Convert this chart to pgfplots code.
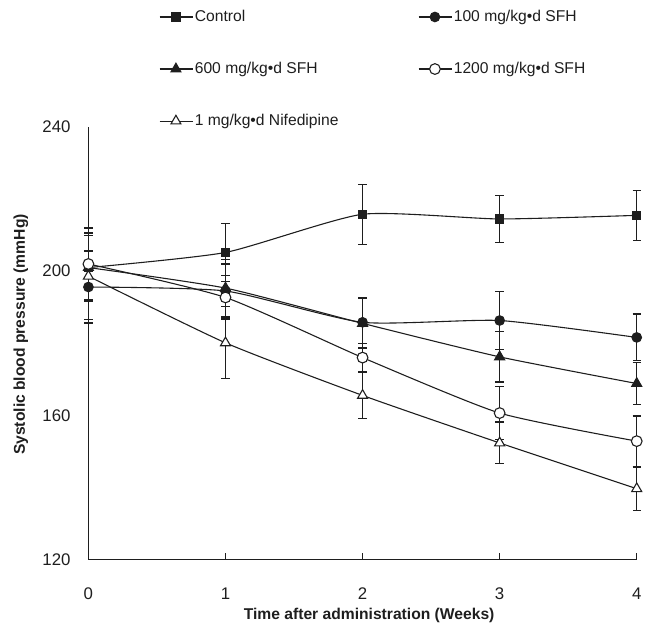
\documentclass[border=0pt]{standalone}
\usepackage{fontspec}
\setmainfont{Liberation Sans}
\usepackage{pgfplots}
\pgfplotsset{compat=1.18}
\definecolor{ink}{RGB}{30,30,30}

\pgfplotsset{
  sbp/.style={
    color=ink, line width=0.55bp, smooth, tension=0.35,
    error bars/y dir=both, error bars/y explicit,
    error bars/error bar style={line width=0.6bp, solid},
    error bars/error mark options={rotate=90, mark size=2.1bp, line width=0.6bp}
  }
}

\begin{document}
\begin{tikzpicture}
\begin{axis}[
    name=ax,
    scale only axis,
    width=276bp, height=217.5bp,
    xmin=0, xmax=4, ymin=120, ymax=240,
    axis x line=bottom, axis y line=left,
    axis line style={-, line width=0.55bp, ink},
    xtick={0,1,2,3,4},
    ytick={120,160,200,240},
    tick align=inside,
    major tick length=3bp,
    xtick style={line width=0.5bp, ink},
    ytick style={draw=none},
    clip=false,
    /pgf/number format/assume math mode=true,
    ticklabel style={font=\fontsize{8.5}{10}\selectfont, text=ink},
    xticklabel style={yshift=-11bp},
    yticklabel style={xshift=-5.5bp},
    xlabel={\textbf{Time after administration (Weeks)}},
    ylabel={\textbf{Systolic blood pressure (mmHg)}},
    label style={font=\fontsize{7.9}{9}\selectfont, text=ink},
    xlabel style={at={(axis description cs:0.512,-0.13)}, anchor=center},
    ylabel style={at={(axis description cs:-0.123,0.52)}, anchor=center},
    legend columns=2,
    legend cell align=left,
    legend style={
      at={(axis description cs:0.128,1.277)}, anchor=north west,
      draw=none, fill=none, inner sep=0pt,
      font=\fontsize{7.9}{9}\selectfont, text=ink,
      nodes={inner sep=1bp},
      row sep=17bp,
      /tikz/column 2/.style={column sep=39bp}
    },
    legend image code/.code={
      \draw[mark repeat=2, mark phase=2, line width=0.55bp]
        plot coordinates {(0bp,0bp) (8.25bp,0bp) (16.5bp,0bp)};
    },
]

\addplot[sbp, mark=square*, mark size=2.1bp, mark options={solid, fill=ink}]
  coordinates {(0,201) +- (0,9) (1,205.2) +- (0,8) (2,215.8) +- (0,8.3)
               (3,214.5) +- (0,6.5) (4,215.5) +- (0,7)};
\addlegendentry{Control}

\addplot[sbp, mark=*, mark size=2.4bp, mark options={solid, fill=ink}]
  coordinates {(0,195.6) +- (0,10) (1,194.5) +- (0,7.5) (2,185.8) +- (0,7)
               (3,186.3) +- (0,8) (4,181.6) +- (0,6.5)};
\addlegendentry{100 mg/kg•d SFH}

\addplot[sbp, mark=triangle*, mark size=2.9bp, mark options={solid, fill=ink}]
  coordinates {(0,201) +- (0,9.5) (1,195.3) +- (0,8) (2,185.5) +- (0,7)
               (3,176.2) +- (0,7) (4,168.8) +- (0,5.8)};
\addlegendentry{600 mg/kg•d SFH}

\addplot[sbp, mark=*, mark size=2.7bp, mark options={solid, fill=white, draw=ink}]
  coordinates {(0,202) +- (0,10) (1,192.7) +- (0,6) (2,176) +- (0,4)
               (3,160.6) +- (0,7.4) (4,152.8) +- (0,7)};
\addlegendentry{1200 mg/kg•d SFH}

\addplot[sbp, mark=triangle*, mark size=2.9bp, mark options={solid, fill=white, draw=ink}]
  coordinates {(0,198.6) +- (0,12) (1,180.1) +- (0,10) (2,165.5) +- (0,6.5)
               (3,152.3) +- (0,5.8) (4,139.6) +- (0,6)};
\addlegendentry{1 mg/kg•d Nifedipine}

\end{axis}
\path[use as bounding box] ([xshift=-44.5bp, yshift=-31bp]ax.south west)
  rectangle ([xshift=3.5bp, yshift=64bp]ax.north east);
\end{tikzpicture}
\end{document}
